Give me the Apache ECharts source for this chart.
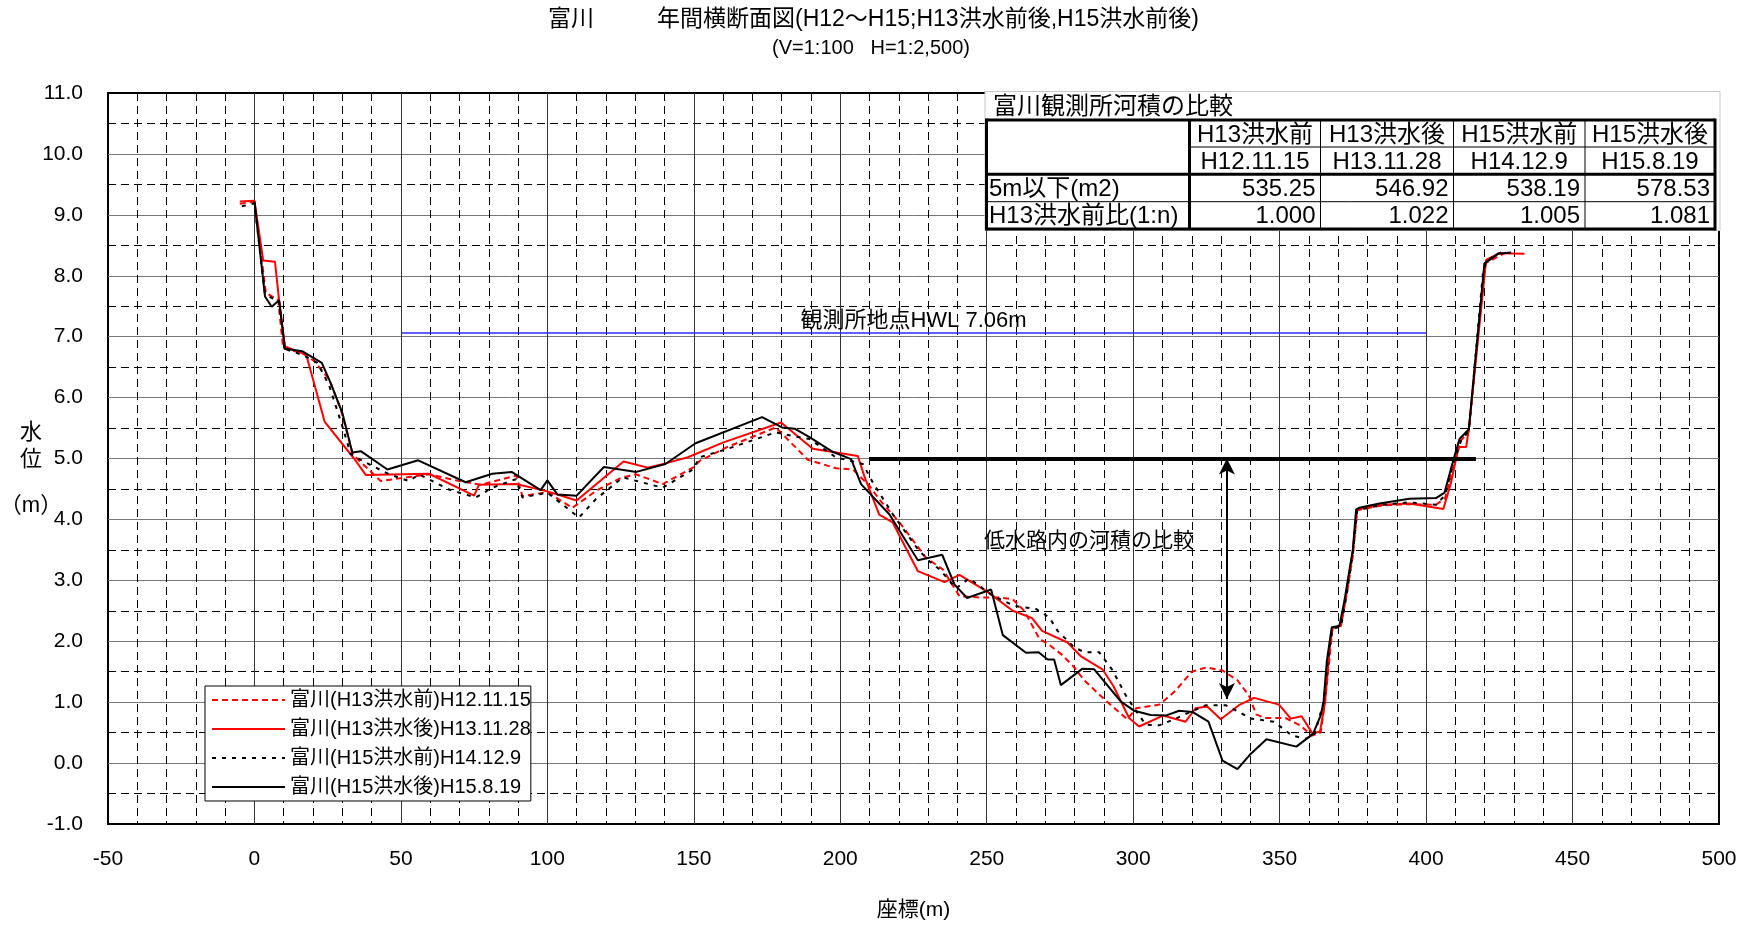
<!DOCTYPE html>
<html>
<head>
<meta charset="utf-8">
<script src="https://cdn.jsdelivr.net/npm/echarts@6/dist/echarts.min.js"></script>
</head>
<body style="margin:0; background:#fff">
<div id="container" style="width:1744px; height:925px"></div>
<script>
// 横断測量 (座標 m, 水位 m)
var names = ['富川(H13洪水前)H12.11.15', '富川(H13洪水後)H13.11.28', '富川(H15洪水前)H14.12.9', '富川(H15洪水後)H15.8.19'];

var before13 = [[-5,9.18],[0,9.22],[3.9,7.72],[8.1,7.6],[9.8,6.81],[16.4,6.73],[20.4,6.6],[25.5,6.3],[29.5,5.8],[33.4,5.1],[35,5.0],[43.1,4.63],[53.4,4.7],[59.6,4.74],[69.9,4.63],[77.2,4.57],[89.4,4.72],[91.5,4.38],[100,4.45],[108.5,4.19],[117,4.48],[125,4.68],[130.3,4.74],[139.4,4.58],[149.7,4.85],[152,4.96],[161,5.18],[178,5.51],[188.9,4.98],[198.5,4.84],[204.3,4.82],[210,4.55],[213.3,4.33],[220.2,3.95],[229.3,3.37],[235,3.18],[240.7,2.74],[247.5,2.72],[254.3,2.72],[258.9,2.69],[262.8,2.5],[268,2.04],[271.4,1.94],[275.9,1.77],[279.9,1.57],[283.3,1.36],[290.1,1.05],[295.8,0.81],[298,0.72],[301,0.9],[309,0.96],[314.5,1.19],[320,1.5],[325,1.57],[330.5,1.52],[335.6,1.36],[339.5,1.11],[342,0.8],[345,0.74],[352,0.74],[357,0.62],[361,0.45],[364,0.5],[365.5,1.0],[367,1.7],[368,2.2],[371,2.28],[373,2.8],[375,3.4],[376.5,4.15],[385,4.23],[394,4.25],[403.4,4.24],[406.5,4.35],[409.5,4.9],[412,5.3],[414.6,5.45],[420,8.2],[424,8.3],[428,8.4]];

var after13 = [[-5,9.22],[0,9.23],[3,8.25],[7,8.23],[8.4,7.6],[10.4,6.84],[17.7,6.7],[24,5.6],[34,5.0],[38,4.73],[59.6,4.75],[75,4.39],[76.7,4.57],[89.4,4.58],[100,4.46],[110,4.31],[126,4.95],[134.3,4.85],[140.3,4.92],[148,5.02],[159.9,5.26],[179.8,5.59],[190.6,5.16],[206,5.04],[208.2,4.71],[213.3,4.08],[217.9,3.95],[226.5,3.15],[235.6,2.97],[240.7,3.09],[250.3,2.81],[258.9,2.5],[265.5,2.38],[268.9,2.17],[277.6,1.98],[282.2,1.75],[289.5,1.54],[293.2,1.27],[298.6,0.74],[302,0.6],[310.2,0.78],[317.9,0.68],[321.3,0.9],[325.3,0.93],[329.9,0.72],[336.1,0.95],[341.3,1.07],[349.8,0.96],[353.8,0.73],[357.5,0.77],[361.3,0.48],[363.8,0.52],[365.5,1.0],[367.2,1.94],[368.1,2.22],[370.9,2.25],[372.5,2.7],[375,3.5],[376.4,4.17],[385.3,4.24],[394.3,4.26],[405.9,4.17],[408.5,4.6],[411.1,5.19],[413.7,5.19],[414.6,5.49],[420.5,8.26],[425,8.37],[433.6,8.36]];

var before15 = [[-4.3,9.14],[0,9.19],[3.6,7.69],[8.4,7.58],[10.4,6.8],[16.4,6.7],[21.5,6.57],[25.5,6.2],[30,5.53],[32.9,5.07],[36.9,4.96],[46,4.74],[52.8,4.63],[56.2,4.74],[66.4,4.49],[75.5,4.36],[81.2,4.52],[89.2,4.66],[91.5,4.36],[100,4.44],[110.8,4.03],[116.5,4.33],[125.8,4.69],[130.5,4.63],[139.4,4.52],[149.7,4.82],[152,5.02],[161,5.15],[178,5.43],[183.7,5.37],[189.5,5.32],[198.5,5.02],[207.7,4.91],[211.2,4.6],[218,4.08],[226.5,3.51],[230.5,3.31],[233.9,3.18],[239.5,2.87],[244,3.03],[252,2.75],[259.4,2.58],[266.8,2.53],[271.4,2.39],[274.2,2.17],[279.9,1.9],[283.3,1.82],[288.4,1.82],[293,1.52],[297.5,1.11],[300.9,0.86],[304.3,0.63],[308.9,0.62],[314.5,0.73],[320,0.85],[324.8,0.95],[331.6,0.95],[336.1,0.84],[340.1,0.73],[348,0.68],[354.3,0.45],[359,0.4],[362,0.48],[365,1.0],[366.5,1.7],[368,2.2],[371,2.25],[373,2.8],[375,3.45],[376.5,4.15],[385,4.24],[394,4.28],[403.4,4.24],[406.5,4.4],[409.5,4.95],[412,5.3],[414.6,5.45],[419.5,8.1],[421,8.25],[424,8.35],[427.5,8.42]];

var after15 = [[0,9.22],[3.6,7.66],[5.9,7.49],[8.4,7.6],[10.4,6.8],[16.4,6.76],[23,6.57],[26,6.24],[30,5.75],[33.4,5.1],[36.3,5.12],[45.4,4.82],[55.9,4.97],[72.1,4.61],[81.2,4.75],[87.8,4.78],[97.7,4.48],[100,4.64],[103.4,4.41],[110,4.39],[119.3,4.86],[130.4,4.78],[140.3,4.91],[150.6,5.25],[173.3,5.68],[180.1,5.51],[184.4,5.49],[189.5,5.35],[197.4,5.11],[203.7,4.99],[207.1,4.58],[216.8,4.08],[226.5,3.33],[234.8,3.42],[239,2.93],[243.3,2.71],[251.5,2.85],[255.5,2.1],[263.4,1.81],[267.7,1.82],[270.8,1.7],[273,1.7],[275.3,1.28],[282.7,1.55],[286.7,1.54],[295.8,1.01],[300.3,0.86],[306,0.79],[311.1,0.78],[315.7,0.86],[320.2,0.84],[325.7,0.68],[330.5,0.04],[335.6,-0.1],[340.1,0.15],[345.5,0.39],[355.7,0.27],[361.4,0.48],[364,0.78],[365,1.0],[366.1,1.67],[367.8,2.23],[370.4,2.25],[372.1,2.66],[373.8,3.16],[375,3.5],[376.1,4.16],[377.2,4.19],[384.1,4.26],[394.3,4.34],[403.4,4.35],[406.3,4.44],[409.1,4.94],[411.4,5.32],[414.6,5.48],[419.9,8.2],[424.5,8.36],[429,8.38]];

// 観測所地点HWL と 低水路 5m ライン
var hwlLevel = 7.06;
var hwlRange = [50, 400];
var lowLevel = 5.0;
var lowRange = [210, 417];
var arrowX = 332;
var arrowRange = [5.0, 1.05];

// 河積比較表
var tableTitle = '富川観測所河積の比較';
var colHeads = ['H13洪水前', 'H13洪水後', 'H15洪水前', 'H15洪水後'];
var colDates = ['H12.11.15', 'H13.11.28', 'H14.12.9', 'H15.8.19'];
var rowLabels = ['5m以下(m2)', 'H13洪水前比(1:n)'];
var areaVals = ['535.25', '546.92', '538.19', '578.53'];
var ratioVals = ['1.000', '1.022', '1.005', '1.081'];

var FONT = "'Liberation Sans', 'Noto Sans CJK JP', sans-serif";

function txt(x, y, s, size, align) {
    return {
        type: 'text', x: x, y: y, z: 110,
        style: { text: s, fontSize: size, fontFamily: FONT, fill: '#000',
                 align: align || 'left', verticalAlign: 'middle' }
    };
}
function ln(x1, y1, x2, y2, w) {
    return { type: 'line', z: 105, shape: { x1: x1, y1: y1, x2: x2, y2: y2 },
             style: { stroke: '#000', lineWidth: w } };
}

function buildTable() {
    var cx = [986.5, 1189.5, 1320.5, 1453.5, 1585, 1715];
    var ry = [120, 147, 174.3, 201.7, 229];
    var g = [];
    g.push({ type: 'rect', z: 100, shape: { x: 985, y: 91.5, width: 735, height: 139 },
             style: { fill: '#fff', stroke: '#c8c8c8', lineWidth: 1 } });
    g.push(txt(993, 107, tableTitle, 24));
    for (var i = 0; i < 4; i++) {
        var mid = (cx[i + 1] + cx[i + 2]) / 2;
        g.push(txt(mid, (ry[0] + ry[1]) / 2 + 1.5, colHeads[i], 24, 'center'));
        g.push(txt(mid, (ry[1] + ry[2]) / 2 + 1.5, colDates[i], 24, 'center'));
        g.push(txt(cx[i + 2] - 5, (ry[2] + ry[3]) / 2 + 1.5, areaVals[i], 24, 'right'));
        g.push(txt(cx[i + 2] - 5, (ry[3] + ry[4]) / 2 + 1.5, ratioVals[i], 24, 'right'));
    }
    g.push(txt(989, (ry[2] + ry[3]) / 2 + 1.5, rowLabels[0], 24));
    g.push(txt(989, (ry[3] + ry[4]) / 2 + 1.5, rowLabels[1], 24));
    // 細線
    g.push(ln(cx[1], ry[1], cx[5], ry[1], 1));
    g.push(ln(cx[0], ry[3], cx[5], ry[3], 1));
    for (var k = 2; k < 5; k++) g.push(ln(cx[k], ry[0], cx[k], ry[4], 1));
    // 太線
    g.push(ln(cx[0], ry[0], cx[5], ry[0], 3));
    g.push(ln(cx[0], ry[2], cx[5], ry[2], 3));
    g.push(ln(cx[0], ry[4], cx[5], ry[4], 3));
    g.push(ln(cx[0], ry[0] - 1.5, cx[0], ry[4] + 1.5, 3));
    g.push(ln(cx[1], ry[0], cx[1], ry[4], 3));
    g.push(ln(cx[5], ry[0] - 1.5, cx[5], ry[4] + 1.5, 3));
    return g;
}

var graphics = [
    txt(548, 20, '富川', 23),
    txt(657, 20, '年間横断面図(H12～H15;H13洪水前後,H15洪水前後)', 23),
    txt(871, 48, '(V=1:100   H=1:2,500)', 20, 'center'),
    txt(31, 433, '水', 22, 'center'),
    txt(31, 460, '位', 22, 'center'),
    txt(31, 506, '（m）', 22, 'center'),
    txt(984, 541, '低水路内の河積の比較', 21)
].concat(buildTable());

var dom = document.getElementById('container');
var myChart = echarts.init(dom);

var styles = [
    { color: '#ff0000', type: [6, 4] },
    { color: '#ff0000', type: 'solid' },
    { color: '#000000', type: [4, 6] },
    { color: '#000000', type: 'solid' }
];
var datas = [before13, after13, before15, after15];

var series = datas.map(function (d, i) {
    return {
        name: names[i], type: 'line', data: d, symbol: 'none',
        color: styles[i].color,
        lineStyle: { color: styles[i].color, width: 2, type: styles[i].type },
        z: 3 + i
    };
});

series[3].markLine = {
    silent: true, animation: false, symbol: ['none', 'none'],
    data: [
        [{ coord: [hwlRange[0], hwlLevel],
           lineStyle: { color: '#2a2aff', width: 1.5, type: 'solid' },
           label: { show: true, position: 'insideMiddleTop', distance: 1.5,
                    formatter: '観測所地点HWL ' + hwlLevel.toFixed(2) + 'm',
                    fontSize: 22, fontFamily: FONT, color: '#000' } },
         { coord: [hwlRange[1], hwlLevel] }],
        [{ coord: [lowRange[0], lowLevel],
           lineStyle: { color: '#000', width: 4, type: 'solid' }, label: { show: false } },
         { coord: [lowRange[1], lowLevel] }],
        [{ coord: [arrowX, arrowRange[0]], symbol: 'arrow', symbolSize: [12, 16],
           lineStyle: { color: '#000', width: 2, type: 'solid' }, label: { show: false } },
         { coord: [arrowX, arrowRange[1]], symbol: 'arrow', symbolSize: [12, 16] }]
    ]
};

var option = {
    animation: false,
    backgroundColor: '#fff',
    textStyle: { fontFamily: FONT },
    graphic: graphics,
    grid: {
        left: 108, top: 93, width: 1611, height: 731,
        outerBoundsMode: 'none', containLabel: false,
        show: true, borderColor: '#000', borderWidth: 2, backgroundColor: 'transparent'
    },
    legend: {
        data: names, orient: 'vertical', left: 205, top: 686,
        itemWidth: 73, itemHeight: 20, itemGap: 9,
        padding: [4, 0, 4, 6],
        itemStyle: { opacity: 0 },
        backgroundColor: '#fff', borderColor: '#000', borderWidth: 1,
        textStyle: { fontSize: 20, color: '#000', fontFamily: FONT }
    },
    xAxis: {
        type: 'value', min: -50, max: 500, interval: 50,
        name: '座標(m)', nameLocation: 'middle', nameGap: 76,
        nameTextStyle: { fontSize: 21, color: '#000', fontFamily: FONT },
        axisLine: { show: false, onZero: false },
        axisTick: { show: false },
        axisLabel: { fontSize: 21, color: '#000', margin: 25 },
        splitLine: { show: true, showMinLine: false, showMaxLine: false,
                     lineStyle: { color: '#333', width: 1 } },
        minorTick: { show: false, splitNumber: 5 },
        minorSplitLine: { show: true, lineStyle: { color: '#000', width: 1, type: [8, 5] } }
    },
    yAxis: {
        type: 'value', min: -1, max: 11, interval: 1,
        axisLine: { show: false, onZero: false },
        axisTick: { show: false },
        axisLabel: { fontSize: 21, color: '#000', margin: 25,
                     formatter: function (v) { return v.toFixed(1); } },
        splitLine: { show: true, showMinLine: false, showMaxLine: false,
                     lineStyle: { color: '#777', width: 1 } },
        minorTick: { show: false, splitNumber: 2 },
        minorSplitLine: { show: true, lineStyle: { color: '#000', width: 1, type: [8, 5] } }
    },
    series: series
};

myChart.setOption(option);
</script>
</body>
</html>
